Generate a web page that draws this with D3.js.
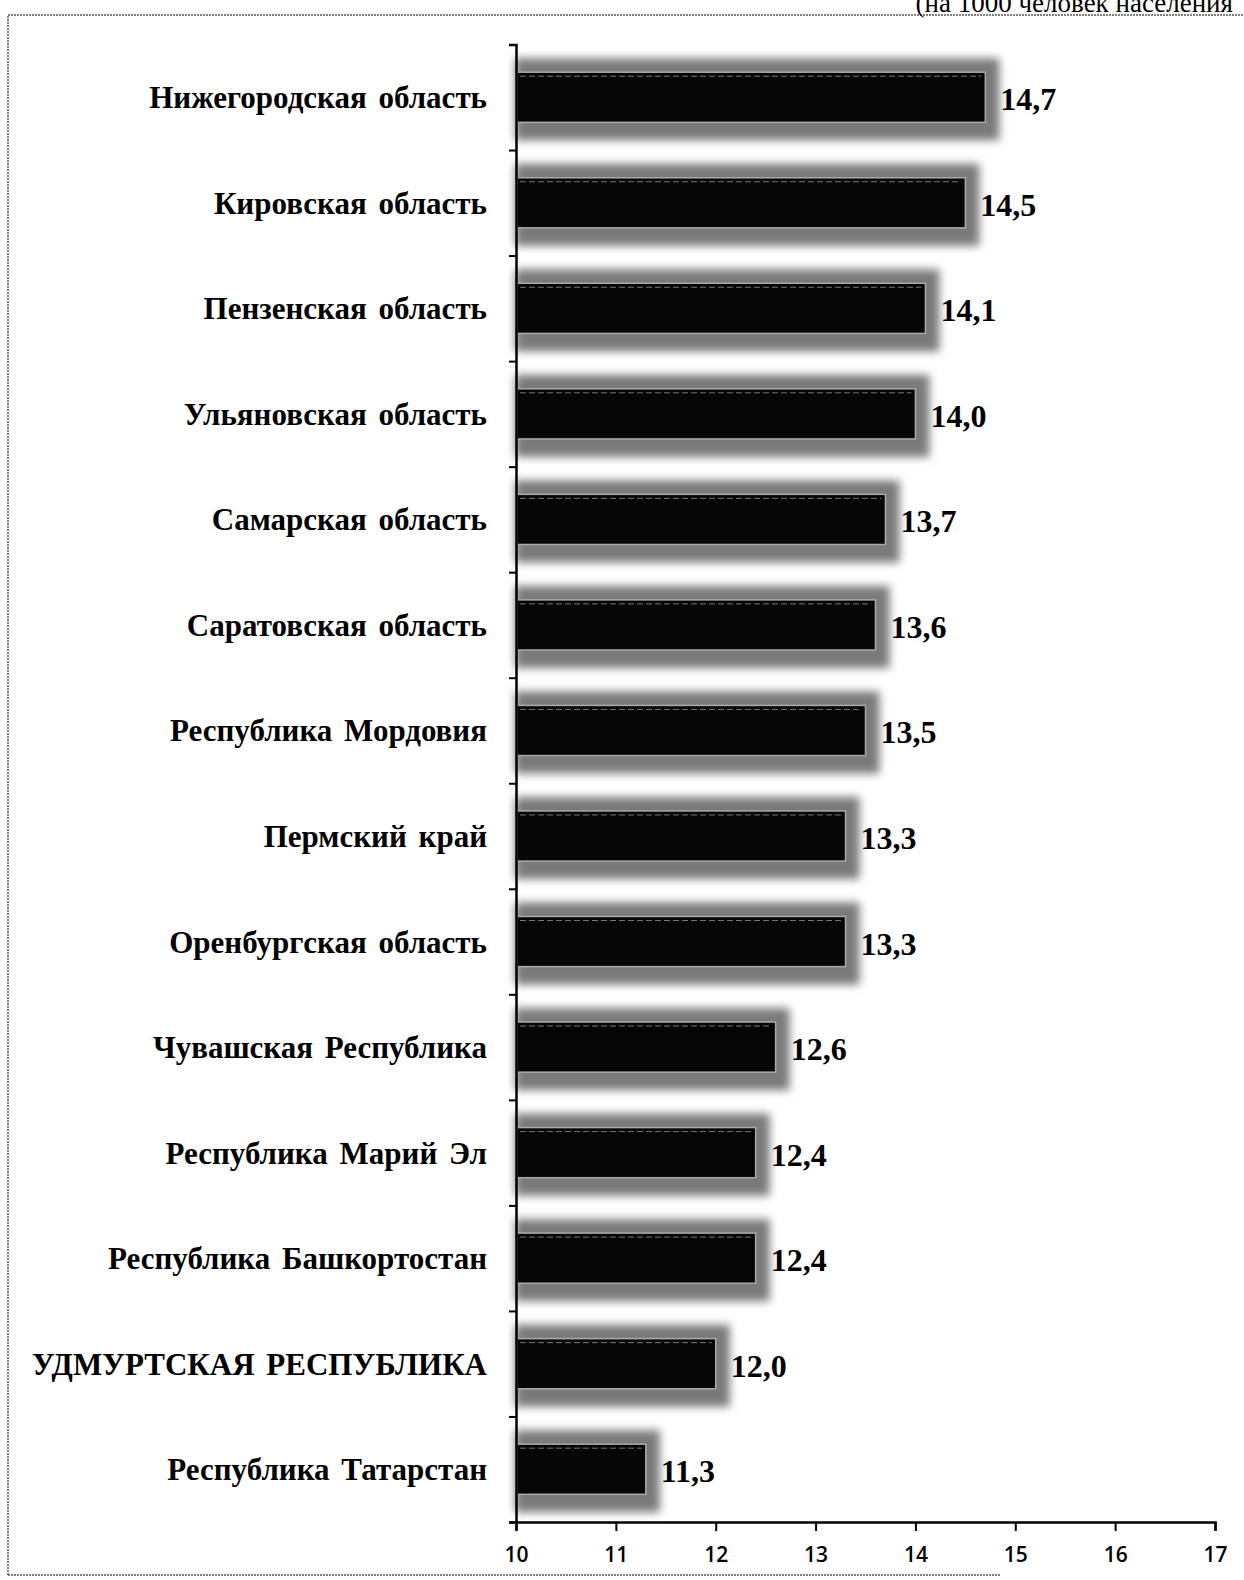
<!DOCTYPE html>
<html>
<head>
<meta charset="utf-8">
<script src="https://cdn.jsdelivr.net/npm/d3@7"></script>
<style>
  body { margin: 0; background: #fff; }
  svg { display: block; }
</style>
</head>
<body>
<div id="chart"></div>
<script>
// regions, top to bottom
var categories = ["Нижегородская область", "Кировская область", "Пензенская область",
  "Ульяновская область", "Самарская область", "Саратовская область",
  "Республика Мордовия", "Пермский край", "Оренбургская область",
  "Чувашская Республика", "Республика Марий Эл", "Республика Башкортостан",
  "УДМУРТСКАЯ РЕСПУБЛИКА", "Республика Татарстан"];

var values = [14.7, 14.5, 14.1, 14.0, 13.7, 13.6, 13.5, 13.3, 13.3, 12.6, 12.4, 12.4, 12.0, 11.3];

var xTicks = [10, 11, 12, 13, 14, 15, 16, 17];

var subtitle = "(на 1000 человек населения";

var W = 1244, H = 1580;
// plot edges (don't call it "top", that's window.top)
var plotLeft = 516, plotRight = 1215, plotTop = 44.5, plotBottom = 1522;

var svg = d3.select("#chart").append("svg")
  .attr("width", W).attr("height", H);

var defs = svg.append("defs");
var f = defs.append("filter").attr("id", "glow")
  .attr("x", "-20%").attr("y", "-60%").attr("width", "140%").attr("height", "220%");
f.append("feGaussianBlur").attr("stdDeviation", 4);

// scanned page frame
svg.append("path")
  .attr("d", "M8,1575 L8,15 L1244,15")
  .attr("fill", "none").attr("stroke", "#555").attr("stroke-width", 1.5)
  .attr("stroke-dasharray", "2,1");
svg.append("line")
  .attr("x1", 8).attr("x2", 1000).attr("y1", 1575).attr("y2", 1575)
  .attr("stroke", "#555").attr("stroke-width", 1.5).attr("stroke-dasharray", "2,1");

// subtitle is cut off by the page top in the scan
svg.append("text")
  .attr("x", 1233).attr("y", 12)
  .attr("text-anchor", "end")
  .attr("font-family", "Liberation Serif, serif")
  .attr("font-size", 27)
  .text(subtitle);

var x = d3.scaleLinear().domain([10, 17]).range([plotLeft, plotRight]);

var y = d3.scaleBand().domain(categories).range([plotTop, plotBottom])
  .paddingInner(0.525).paddingOuter(0.2625);

var yIdx = d3.scaleLinear().domain([0, categories.length]).range([plotTop, plotBottom]);

var rows = svg.append("g").selectAll("g")
  .data(categories)
  .enter().append("g");

// grey halo around bars
rows.append("rect")
  .attr("x", plotLeft - 1)
  .attr("y", function(d) { return y(d) - 14; })
  .attr("width", function(d, i) { return x(values[i]) - plotLeft + 15; })
  .attr("height", y.bandwidth() + 32)
  .attr("fill", "#7a7a7a")
  .attr("filter", "url(#glow)");

rows.append("rect")
  .attr("x", plotLeft + 1)
  .attr("y", function(d) { return y(d); })
  .attr("width", function(d, i) { return x(values[i]) - plotLeft - 1; })
  .attr("height", y.bandwidth())
  .attr("fill", "#060606")
  .attr("stroke", "#aaa")
  .attr("stroke-width", 1.5);

rows.append("line")
  .attr("x1", plotLeft + 4)
  .attr("x2", function(d, i) { return x(values[i]) - 4; })
  .attr("y1", function(d) { return y(d) + 4; })
  .attr("y2", function(d) { return y(d) + 4; })
  .attr("stroke", "#777").attr("stroke-width", 1).attr("stroke-dasharray", "6,3");

rows.append("text")
  .attr("x", 487)
  .attr("y", function(d) { return y(d) + y.bandwidth() / 2 + 11; })
  .attr("text-anchor", "end")
  .attr("font-family", "Liberation Serif, serif")
  .attr("font-weight", "bold")
  .attr("font-size", 31)
  .attr("word-spacing", 4)
  .text(function(d) { return d; });

rows.append("text")
  .attr("x", function(d, i) { return x(values[i]) + 15; })
  .attr("y", function(d) { return y(d) + y.bandwidth() / 2 + 13; })
  .attr("font-family", "Liberation Serif, serif")
  .attr("font-weight", "bold")
  .attr("font-size", 32)
  .text(function(d, i) { return values[i].toFixed(1).replace(".", ","); });

// y axis with ticks at band edges
var yAxis = svg.append("g")
  .attr("transform", "translate(" + plotLeft + ",0)")
  .call(d3.axisLeft(yIdx).ticks(categories.length).tickSize(7).tickFormat(""));
yAxis.select(".domain").attr("stroke", "#000").attr("stroke-width", 2.5);
yAxis.selectAll(".tick line").attr("stroke", "#000").attr("stroke-width", 2);

var xAxis = svg.append("g")
  .attr("transform", "translate(0," + plotBottom + ")")
  .call(d3.axisBottom(x).tickValues(xTicks).tickFormat(d3.format("d"))
    .tickSize(9).tickSizeOuter(9).tickPadding(16));
xAxis.select(".domain").attr("stroke", "#000").attr("stroke-width", 2.5);
xAxis.selectAll(".tick line").attr("stroke", "#000").attr("stroke-width", 2);
xAxis.selectAll(".tick text")
  .attr("font-family", "Open Sans, sans-serif")
  .attr("font-weight", "600")
  .attr("font-size", 21)
  .attr("fill", "#000");
</script>
</body>
</html>
